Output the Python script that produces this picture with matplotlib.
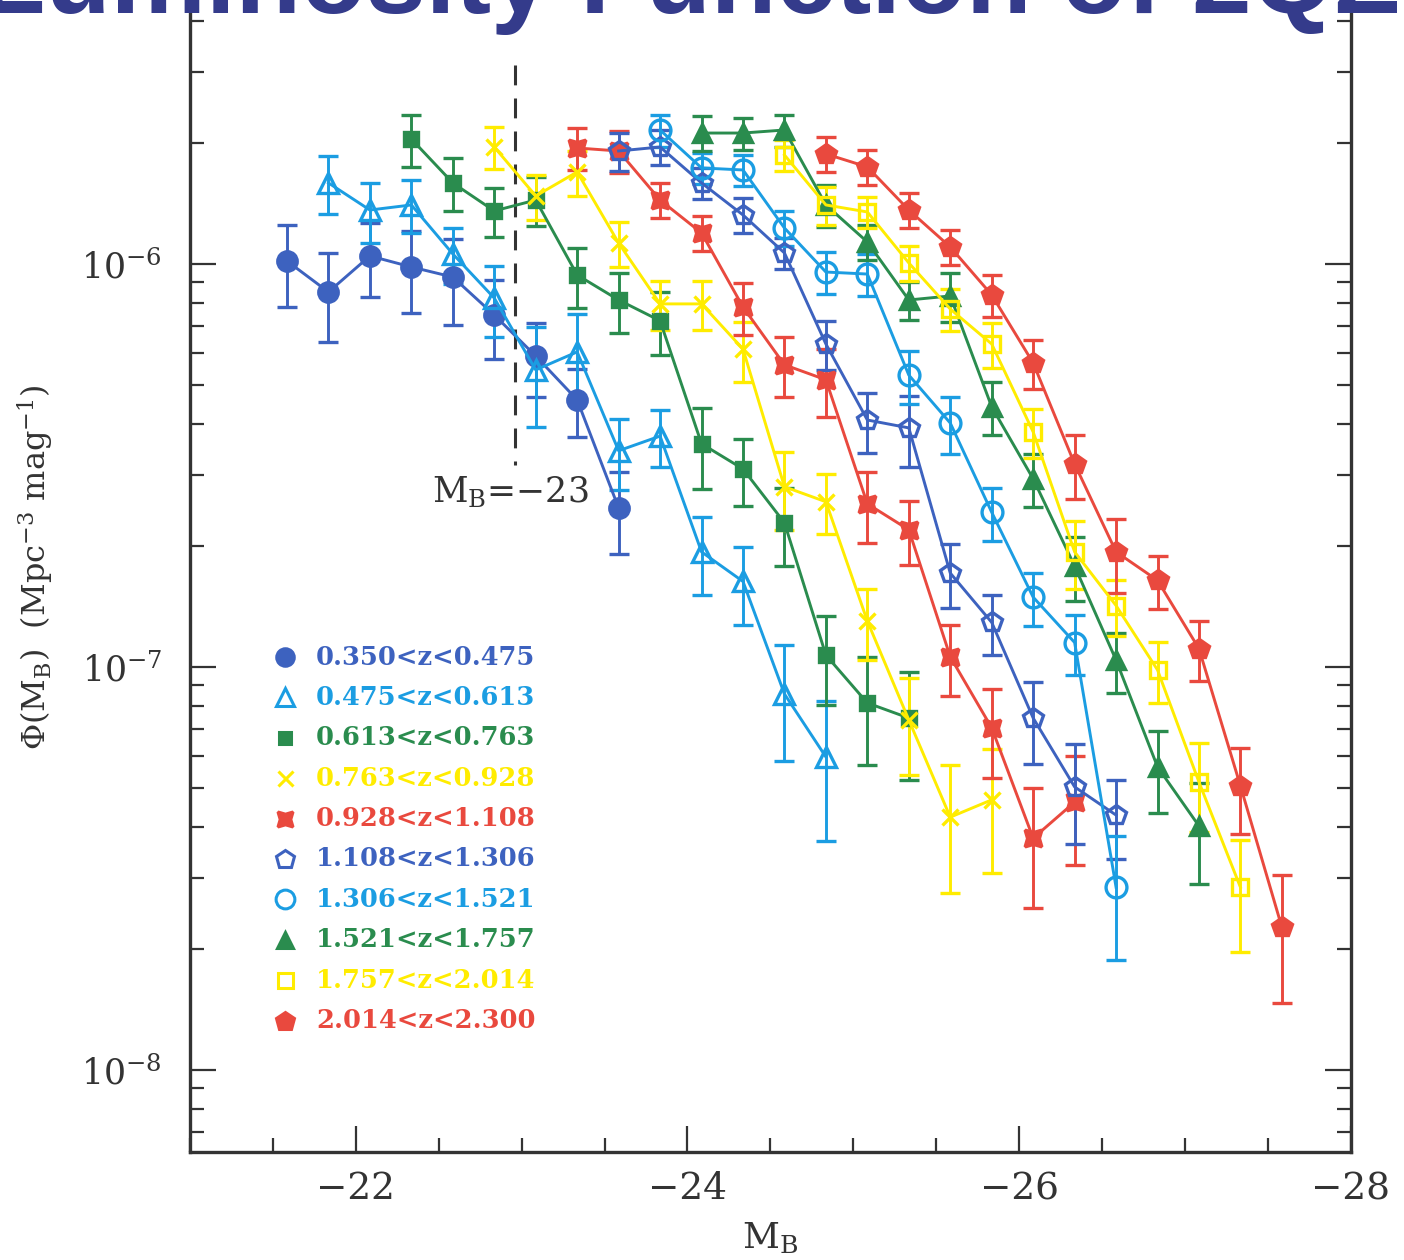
import matplotlib
matplotlib.use("Agg")
import matplotlib.pyplot as plt
from matplotlib.ticker import FixedLocator, MultipleLocator, LogLocator, NullFormatter, LogFormatterMathtext

plt.rcParams['font.family'] = ['DejaVu Serif']
plt.rcParams['mathtext.fontset'] = 'dejavuserif'

# ---------------- data ----------------
# absolute magnitude bin centres
MB_BINS = [-21.585, -21.835, -22.085, -22.335, -22.585, -22.835, -23.085, -23.335,
           -23.585, -23.835, -24.085, -24.335, -24.585, -24.835, -25.085, -25.335,
           -25.585, -25.835, -26.085, -26.335, -26.585, -26.835, -27.085, -27.335,
           -27.585]

Z_LABELS = ["0.350<z<0.475", "0.475<z<0.613", "0.613<z<0.763", "0.763<z<0.928",
            "0.928<z<1.108", "1.108<z<1.306", "1.306<z<1.521", "1.521<z<1.757",
            "1.757<z<2.014", "2.014<z<2.300"]

# first bin index of each redshift slice
START_BIN = [0, 1, 3, 5, 7, 8, 9, 10, 12, 13]

# Phi(M_B) in units of 1e-6 Mpc^-3 mag^-1
PHI_1 = [1.017, 0.852, 1.047, 0.983, 0.928, 0.747, 0.591, 0.460, 0.248]
PHI_2 = [1.589, 1.361, 1.401, 1.059, 0.823, 0.546, 0.605, 0.344, 0.374, 0.193, 0.163, 0.0857, 0.0598]
PHI_3 = [2.042, 1.589, 1.354, 1.441, 0.939, 0.814, 0.723, 0.358, 0.310, 0.228, 0.107, 0.0814, 0.0747]
PHI_4 = [1.951, 1.475, 1.692, 1.127, 0.796, 0.796, 0.615, 0.280, 0.257, 0.130, 0.0739, 0.0424, 0.0468]
PHI_5 = [1.940, 1.907, 1.441, 1.194, 0.782, 0.562, 0.516, 0.254, 0.219, 0.106, 0.0706, 0.0376, 0.0462]
PHI_6 = [1.907, 1.951, 1.589, 1.323, 1.065, 0.633, 0.410, 0.392, 0.171, 0.129, 0.0747, 0.0504, 0.0429]
PHI_7 = [2.150, 1.731, 1.711, 1.228, 0.955, 0.944, 0.530, 0.403, 0.242, 0.149, 0.115, 0.0284]
PHI_8 = [2.113, 2.113, 2.150, 1.401, 1.134, 0.814, 0.833, 0.442, 0.293, 0.178, 0.104, 0.0565, 0.0403]
PHI_9 = [1.864, 1.401, 1.346, 1.006, 0.773, 0.633, 0.383, 0.193, 0.142, 0.0983, 0.0518, 0.0284]
PHI_10 = [1.875, 1.741, 1.361, 1.102, 0.838, 0.568, 0.319, 0.193, 0.164, 0.111, 0.0507, 0.0226]

# fractional 1-sigma errors
ERR_1 = [0.23, 0.25, 0.21, 0.23, 0.24, 0.22, 0.21, 0.19, 0.23]
ERR_2 = [0.165, 0.17, 0.15, 0.16, 0.20, 0.28, 0.24, 0.20, 0.16, 0.22, 0.22, 0.32, 0.38]
ERR_3 = [0.15, 0.15, 0.14, 0.14, 0.17, 0.17, 0.18, 0.23, 0.19, 0.22, 0.25, 0.30, 0.30]
ERR_4 = [0.12, 0.13, 0.13, 0.13, 0.14, 0.14, 0.17, 0.22, 0.17, 0.20, 0.27, 0.35, 0.34]
ERR_5 = [0.12, 0.12, 0.10, 0.10, 0.15, 0.17, 0.19, 0.20, 0.18, 0.20, 0.25, 0.33, 0.30]
ERR_6 = [0.11, 0.10, 0.09, 0.10, 0.09, 0.14, 0.17, 0.20, 0.18, 0.17, 0.23, 0.28, 0.22]
ERR_7 = [0.09, 0.09, 0.09, 0.10, 0.12, 0.12, 0.15, 0.16, 0.15, 0.15, 0.17, 0.34]
ERR_8 = [0.10, 0.09, 0.09, 0.12, 0.10, 0.11, 0.14, 0.15, 0.15, 0.18, 0.17, 0.23, 0.28]
ERR_9 = [0.09, 0.11, 0.09, 0.10, 0.12, 0.13, 0.14, 0.19, 0.16, 0.17, 0.25, 0.31]
ERR_10 = [0.10, 0.10, 0.10, 0.10, 0.12, 0.14, 0.18, 0.21, 0.15, 0.17, 0.24, 0.35]

PHI_UNIT = 1e-6
MB_CUT = -22.96          # dashed line (labelled M_B = -23)
CUT_RANGE = [3.12e-6, 3.17e-7]

PHIS = [PHI_1, PHI_2, PHI_3, PHI_4, PHI_5, PHI_6, PHI_7, PHI_8, PHI_9, PHI_10]
ERRS = [ERR_1, ERR_2, ERR_3, ERR_4, ERR_5, ERR_6, ERR_7, ERR_8, ERR_9, ERR_10]

# ---------------- styles ----------------
DARK_BLUE = '#3d62bf'
LIGHT_BLUE = '#1b9de2'
GREEN = '#2a8c4e'
YELLOW = '#ffec00'
RED = '#e9493e'
AXC = '#333333'

STYLES = [
    dict(color=DARK_BLUE, marker='o', ms=14, filled=True),
    dict(color=LIGHT_BLUE, marker='^', ms=14, filled=False),
    dict(color=GREEN, marker='s', ms=10, filled=True),
    dict(color=YELLOW, marker='x', ms=12, filled=True),
    dict(color=RED, marker=(4, 1, 45), ms=17, filled=True),
    dict(color=DARK_BLUE, marker='p', ms=15, filled=False),
    dict(color=LIGHT_BLUE, marker='o', ms=15, filled=False),
    dict(color=GREEN, marker='^', ms=13, filled=True),
    dict(color=YELLOW, marker='s', ms=12, filled=False),
    dict(color=RED, marker='p', ms=15, filled=True),
]

fig = plt.figure(figsize=(14.04, 12.6), dpi=100)
ax = fig.add_axes([190 / 1404, 108 / 1260, 1160.7 / 1404, 1192 / 1260])

for phi, err, start, st in zip(PHIS, ERRS, START_BIN, STYLES):
    m = MB_BINS[start:start + len(phi)]
    y = [p * PHI_UNIT for p in phi]
    ye = [p * PHI_UNIT * f for p, f in zip(phi, err)]
    ax.errorbar(m, y, yerr=ye, color=st['color'], marker=st['marker'], ms=st['ms'],
                mfc=st['color'] if st['filled'] else 'none', mec=st['color'],
                mew=2.4, lw=2.1, elinewidth=2.1, capsize=7, capthick=2.1)

# dashed line at M_B = -23
ax.plot([MB_CUT, MB_CUT], CUT_RANGE, color=AXC, lw=2.2, dashes=(6.5, 4.3), zorder=1)
ax.text(-22.93, 2.72e-7, r'$\mathrm{M_B}$=−23', color=AXC, fontsize=25,
        ha='center', va='center')

# axes
ax.set_xlim(-21, -28)
ax.set_yscale('log')
ax.set_ylim(6.258e-9, 5.679e-6)
ax.xaxis.set_major_locator(FixedLocator([-22, -24, -26, -28]))
ax.xaxis.set_minor_locator(MultipleLocator(0.5))
ax.yaxis.set_major_locator(LogLocator(base=10, numticks=10))
ax.yaxis.set_minor_locator(LogLocator(base=10, subs=[2, 3, 4, 5, 6, 7, 8, 9], numticks=20))
ax.yaxis.set_minor_formatter(NullFormatter())
ax.yaxis.set_major_formatter(LogFormatterMathtext())

ax.tick_params(which='both', direction='in', top=True, right=True, color=AXC, width=1.6)
ax.tick_params(which='major', length=19)
ax.tick_params(which='minor', length=10)
ax.tick_params(axis='x', which='major', labelsize=27, pad=14, labelcolor=AXC)
ax.tick_params(axis='y', which='major', labelsize=25, pad=20, labelcolor=AXC)
for s in ax.spines.values():
    s.set_color(AXC)
    s.set_linewidth(2.4)

fig.text(770 / 1404, 1 - 1238 / 1260, r'$\mathrm{M_B}$', fontsize=26, color=AXC,
         ha='center', va='center')
fig.text(36 / 1404, 1 - 567 / 1260,
         r'$\Phi(\mathrm{M_B})\ \ (\mathrm{Mpc^{-3}\ mag^{-1}})$', fontsize=23,
         color=AXC, rotation=90, ha='center', va='center')

# legend (drawn manually to match the layout)
row0_px, row_step_px = 657.0, 40.4
for i, (lab, st) in enumerate(zip(Z_LABELS, STYLES)):
    yy = (1152 - (row0_px + i * row_step_px)) / 1192
    ms = st['ms'] * 0.9
    ax.plot([(285 - 190) / 1160.7], [yy], transform=ax.transAxes, linestyle='none',
            marker=st['marker'], ms=ms, color=st['color'],
            mfc=st['color'] if st['filled'] else 'none', mec=st['color'], mew=2.2,
            clip_on=False)
    ax.text((316 - 190) / 1160.7, yy, lab, transform=ax.transAxes, color=st['color'],
            fontsize=18.5, fontweight='bold', ha='left', va='center')

# title (partly cut off at the top in the reference)
fig.text(690 / 1404, 1 - 13 / 1260, 'Luminosity Function of 2QZ', fontsize=77,
         fontweight='bold', family='Liberation Sans', color='#343b8b',
         ha='center', va='baseline')

fig.savefig('out.png', dpi=100)
